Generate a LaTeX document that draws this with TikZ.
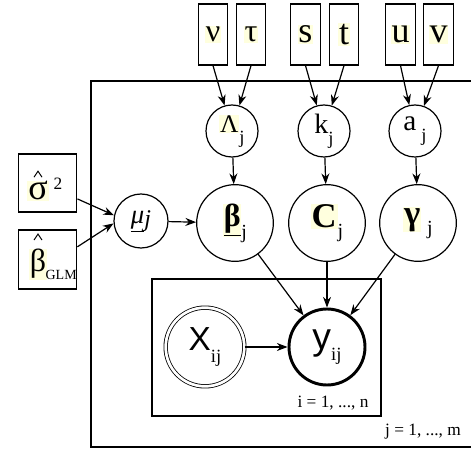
\documentclass[tikz,border=0pt]{standalone}
\usepackage{fontspec}
\setmainfont{Liberation Serif}
\setsansfont{Liberation Sans}
\usetikzlibrary{arrows.meta}
\definecolor{hl}{RGB}{255,255,222}
\newcommand\hlt[1]{{\setlength\fboxsep{0.6pt}\colorbox{hl}{#1}}}
\newcommand\fs[1]{\fontsize{#1}{#1}\selectfont}
\newcommand\sub[2]{\raisebox{#1}{#2}}
\begin{document}
\begin{tikzpicture}[x=0.75pt,y=-0.75pt,
  every node/.style={inner sep=0pt},
  line width=0.9pt,
  arr/.style={-{Stealth[length=8pt,width=6pt]}},
  parbox/.style={draw, fill=white, minimum width=22pt, minimum height=45.75pt},
  hypbox/.style={draw, fill=white, minimum width=44pt, minimum height=43.5pt},
  hltext/.style={anchor=base, fill=hl, inner sep=0.6pt},
  hatline/.style={line width=0.75pt, line join=miter},
  smallc/.style={circle, draw, fill=white, minimum size=39pt},
  bigc/.style={circle, draw, fill=white, minimum size=57.5pt},
]
\useasboundingbox (0,0) rectangle (471,452);
% plates
\draw (471,81) -- (91,81) -- (91,447) -- (471,447);
\draw (152,279) rectangle (381,416);
% top hyperparameter boxes
\node[parbox] (nu) at (213,34.5) {\fs{24}\hlt{ν}};
\node[parbox] (tau) at (251,34.5) {\fs{24}\hlt{τ}};
\node[parbox] (s) at (305.5,34.5) {\fs{27}\hlt{s}};
\node[parbox] (t) at (344,34.5) {\fs{27}\hlt{t}};
\node[parbox] (u) at (400.5,34.5) {\fs{27}\hlt{u}};
\node[parbox] (v) at (438.5,34.5) {\fs{27}\hlt{v}};
% left boxes
\node[hypbox] (sig) at (47.5,183) {};
\node[hltext] (sigt) at (38,200) {\fs{27}σ};
\node[anchor=base west] (sig2) at (53,190) {\fs{13}2};
\draw[hatline] ([shift={(-4,-3)}]sigt.north) -- ([shift={(0,-9)}]sigt.north) -- ([shift={(4,-3)}]sigt.north);
\node[hypbox, minimum height=44.25pt] (bg) at (47.5,259.5) {};
\node[hltext] (bgt) at (38,272) {\fs{24}β};
\node[anchor=base west] (glm) at (45,280) {\fs{10.5}GLM};
\draw[hatline] ([shift={(-4,-8)}]bgt.north) -- ([shift={(0,-14)}]bgt.north) -- ([shift={(4,-8)}]bgt.north);
% circles
\node[smallc] (L) at (232,131) {\fs{19}\hlt{Λ}\sub{-0.45em}{\fs{14}j}};
\node[smallc] (k) at (324,131) {\fs{21}k\sub{-0.4em}{\fs{14}j}};
\node[smallc] (a) at (415,131) {\fs{22}a\,\sub{-0.35em}{\fs{14}j}};
\node[circle, draw, fill=white, minimum size=40.5pt] (mu) at (141,221) {\fs{20}\underline{\textit{μ}}\sub{-0.1em}{\fs{18}\textit{j}}};
\node[bigc] (B) at (235,223) {\fs{24}\hlt{\underline{\textbf{β}}}\sub{-0.35em}{\fs{15}j}};
\node[bigc] (C) at (327,223) {\fs{26}\hlt{\textbf{C}}\sub{-0.3em}{\fs{15}j}};
\node[bigc] (G) at (418,223) {\fs{26}\hlt{\textbf{γ}}\,\sub{-0.3em}{\fs{15}j}};
% data nodes
\node[circle, draw, double=white, double distance=2pt, line width=0.6pt, minimum size=59pt] (X) at (205,347) {\fs{25}\sffamily X\sub{-0.35em}{\rmfamily\fs{14}ij}};
\node[circle, draw, line width=2.2pt, minimum size=57pt] (Y) at (327,347) {\fs{28}\sffamily y\sub{-0.3em}{\rmfamily\fs{14}ij}};
% plate labels
\node (ilab) at (333,403) {\fs{13}i = 1, ..., n};
\node (jlab) at (423,432) {\fs{13}j = 1, ..., m};
% arrows
\draw[arr] (nu.south) -- (L);
\draw[arr] (tau.south) -- (L);
\draw[arr] (s.south) -- (k);
\draw[arr] (t.south) -- (k);
\draw[arr] (u.south) -- (a);
\draw[arr] (v.south) -- (a);
\draw[arr] (sig.-28) -- (mu.168);
\draw[arr] (bg.23) -- (mu.185);
\draw[arr] (mu) -- (B);
\draw[arr] (L) -- (B);
\draw[arr] (k) -- (C);
\draw[arr] (a) -- (G);
\draw[arr] (B) -- (Y);
\draw[arr] (C) -- (Y);
\draw[arr] (G) -- (Y);
\draw[arr] (X) -- (Y);
\end{tikzpicture}
\end{document}
